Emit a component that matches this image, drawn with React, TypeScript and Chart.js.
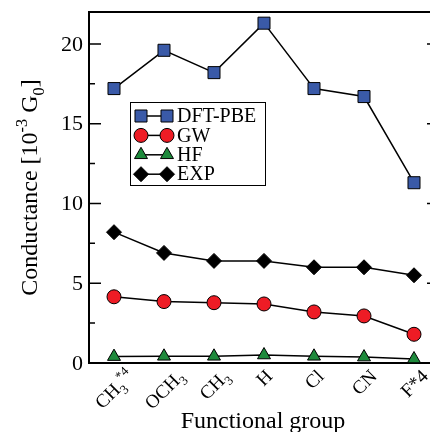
import React, { useEffect, useRef } from "react";
import { Chart, registerables } from "chart.js";

Chart.register(...registerables);

type Seg = [string, number]; // 0 normal, -1 subscript, 1 superscript

// ---- data ----
const categories: string[] = ["CH3*4", "OCH3", "CH3", "H", "Cl", "CN", "F*4"];
const categoryLabels: Seg[][] = [
  [["CH", 0], ["3", -1], ["*4", 1]],
  [["OCH", 0], ["3", -1]],
  [["CH", 0], ["3", -1]],
  [["H", 0]],
  [["Cl", 0]],
  [["CN", 0]],
  [["F*4", 0]],
];
const dftPbe: number[] = [17.2, 19.6, 18.2, 21.3, 17.2, 16.7, 11.3];
const gw: number[] = [4.15, 3.85, 3.78, 3.7, 3.2, 2.95, 1.8];
const hf: number[] = [0.4, 0.42, 0.42, 0.5, 0.42, 0.37, 0.25];
const expData: number[] = [8.2, 6.9, 6.4, 6.4, 6.0, 6.0, 5.5];
const majorTicks: number[] = [0, 5, 10, 15, 20];
const minorTicks: number[] = [2.5, 7.5, 12.5, 17.5];
const yMin = 0;
const yMax = 22;
const seriesNames: string[] = ["DFT-PBE", "GW", "HF", "EXP"];
const xTitle = "Functional group";
const yTitle: Seg[] = [["Conductance [10", 0], ["-3", 1], [" G", 0], ["0", -1], ["]", 0]];

const FONT = '"Liberation Serif", "Times New Roman", Times, serif';

const styles = [
  { color: "#3a5aa8", shape: "rect", r: 8.5 },
  { color: "#ee1c25", shape: "circle", r: 7 },
  { color: "#1e8a3c", shape: "triangle", r: 7.5 },
  { color: "#000000", shape: "rectRot", r: 7.5 },
];

function segSize(m: number, size: number) {
  return m === 0 ? size : size * 0.68;
}

function richWidth(ctx: CanvasRenderingContext2D, segs: Seg[], size: number) {
  let w = 0;
  for (const [t, m] of segs) {
    ctx.font = `${segSize(m, size)}px ${FONT}`;
    w += ctx.measureText(t).width;
  }
  return w;
}

function drawRich(ctx: CanvasRenderingContext2D, segs: Seg[], x: number, y: number, size: number) {
  let cx = x;
  ctx.textAlign = "left";
  ctx.textBaseline = "alphabetic";
  for (const [t, m] of segs) {
    ctx.font = `${segSize(m, size)}px ${FONT}`;
    const dy = m === -1 ? size * 0.28 : m === 1 ? -size * 0.42 : 0;
    ctx.fillText(t, cx, y + dy);
    cx += ctx.measureText(t).width;
  }
}

function drawMarker(ctx: CanvasRenderingContext2D, shape: string, x: number, y: number, r: number, fill: string) {
  ctx.save();
  ctx.beginPath();
  if (shape === "rect") {
    const s = r * Math.SQRT1_2;
    ctx.rect(x - s, y - s, 2 * s, 2 * s);
  } else if (shape === "circle") {
    ctx.arc(x, y, r, 0, Math.PI * 2);
  } else if (shape === "triangle") {
    ctx.moveTo(x, y - r);
    ctx.lineTo(x + r * Math.sin(Math.PI / 3), y + r / 2);
    ctx.lineTo(x - r * Math.sin(Math.PI / 3), y + r / 2);
    ctx.closePath();
  } else {
    ctx.moveTo(x, y - r);
    ctx.lineTo(x + r, y);
    ctx.lineTo(x, y + r);
    ctx.lineTo(x - r, y);
    ctx.closePath();
  }
  ctx.fillStyle = fill;
  ctx.fill();
  ctx.strokeStyle = "#000";
  ctx.lineWidth = 1;
  ctx.stroke();
  ctx.restore();
}

const decorPlugin = {
  id: "decor",
  beforeDatasetsDraw(chart: any) {
    const ctx: CanvasRenderingContext2D = chart.ctx;
    const { left, right, top, bottom } = chart.chartArea;
    const ys = chart.scales.y;
    const xs = chart.scales.x;
    ctx.save();
    ctx.strokeStyle = "#000";
    ctx.fillStyle = "#000";
    // frame
    ctx.lineWidth = 2;
    ctx.beginPath();
    ctx.moveTo(left, top);
    ctx.lineTo(right, top);
    ctx.lineTo(right, bottom);
    ctx.lineTo(left, bottom);
    ctx.closePath();
    ctx.stroke();
    // y ticks
    ctx.lineWidth = 1.5;
    const tick = (v: number, len: number) => {
      const y = ys.getPixelForValue(v);
      ctx.beginPath();
      ctx.moveTo(left, y);
      ctx.lineTo(left + len, y);
      ctx.moveTo(right, y);
      ctx.lineTo(right - len, y);
      ctx.stroke();
    };
    majorTicks.forEach((v) => tick(v, 12));
    minorTicks.forEach((v) => tick(v, 6));
    // y tick labels
    ctx.font = `22px ${FONT}`;
    ctx.textAlign = "right";
    ctx.textBaseline = "middle";
    majorTicks.forEach((v) => {
      ctx.fillText(String(v), left - 6, ys.getPixelForValue(v) + 1);
    });
    // x tick labels, rotated 45 deg, centered under the category
    const fs = 19;
    categoryLabels.forEach((segs, i) => {
      const x = xs.getPixelForValue(i);
      const w = richWidth(ctx, segs, fs);
      const th = fs * 0.7;
      const h = (w + th) * Math.SQRT1_2;
      ctx.save();
      ctx.translate(x, bottom + 5 + h / 2);
      ctx.rotate(-Math.PI / 4);
      drawRich(ctx, segs, -w / 2, th / 2, fs);
      ctx.restore();
    });
    // x title
    ctx.font = `24px ${FONT}`;
    ctx.textAlign = "center";
    ctx.textBaseline = "alphabetic";
    ctx.fillText(xTitle, (left + right) / 2 - 1, 428);
    // y title
    ctx.save();
    const yw = richWidth(ctx, yTitle, 24);
    ctx.translate(37, (top + bottom) / 2);
    ctx.rotate(-Math.PI / 2);
    drawRich(ctx, yTitle, -yw / 2, 0, 24);
    ctx.restore();
    ctx.restore();
  },
  afterDatasetsDraw(chart: any) {
    const ctx: CanvasRenderingContext2D = chart.ctx;
    ctx.save();
    const bx = 130, by = 102, bw = 135, bh = 83;
    ctx.fillStyle = "#fff";
    ctx.fillRect(bx, by, bw, bh);
    ctx.strokeStyle = "#000";
    ctx.lineWidth = 1;
    ctx.strokeRect(bx + 0.5, by + 0.5, bw, bh);
    chart.data.datasets.forEach((ds: any, i: number) => {
      const st = styles[i];
      const y = by + 14 + i * 19.4;
      ctx.strokeStyle = "#000";
      ctx.lineWidth = 1.5;
      ctx.beginPath();
      ctx.moveTo(141, y);
      ctx.lineTo(167, y);
      ctx.stroke();
      drawMarker(ctx, st.shape, 141, y, st.r, st.color);
      drawMarker(ctx, st.shape, 167, y, st.r, st.color);
      ctx.fillStyle = "#000";
      ctx.font = `20px ${FONT}`;
      ctx.textAlign = "left";
      ctx.textBaseline = "middle";
      ctx.fillText(ds.label, 177, y + 1);
    });
    ctx.restore();
  },
};

export default function App() {
  const ref = useRef<HTMLCanvasElement | null>(null);
  useEffect(() => {
    if (!ref.current) return;
    const series = [dftPbe, gw, hf, expData];
    const chart = new Chart(ref.current, {
      type: "line",
      data: {
        labels: categories,
        datasets: series.map((d, i) => ({
          label: seriesNames[i],
          data: d,
          borderColor: "#000",
          borderWidth: 1.5,
          pointStyle: styles[i].shape as any,
          pointRadius: styles[i].r,
          pointHoverRadius: styles[i].r,
          pointBackgroundColor: styles[i].color,
          pointBorderColor: "#000",
          pointBorderWidth: 1,
          tension: 0,
          clip: false as any,
          order: 3 - i,
        })),
      },
      options: {
        responsive: false,
        animation: false,
        devicePixelRatio: 1,
        layout: { padding: { left: 89, right: 11, top: 12, bottom: 69 } },
        scales: {
          x: { type: "category", offset: true, display: false },
          y: { min: yMin, max: yMax, display: false },
        },
        plugins: { legend: { display: false }, tooltip: { enabled: false } },
      },
      plugins: [decorPlugin],
    });
    return () => chart.destroy();
  }, []);
  return (
    <div style={{ position: "absolute", left: 0, top: 0, width: 430, height: 432, overflow: "hidden", background: "#fff" }}>
      <canvas ref={ref} width={450} height={432} style={{ width: 450, height: 432, display: "block" }} />
    </div>
  );
}
